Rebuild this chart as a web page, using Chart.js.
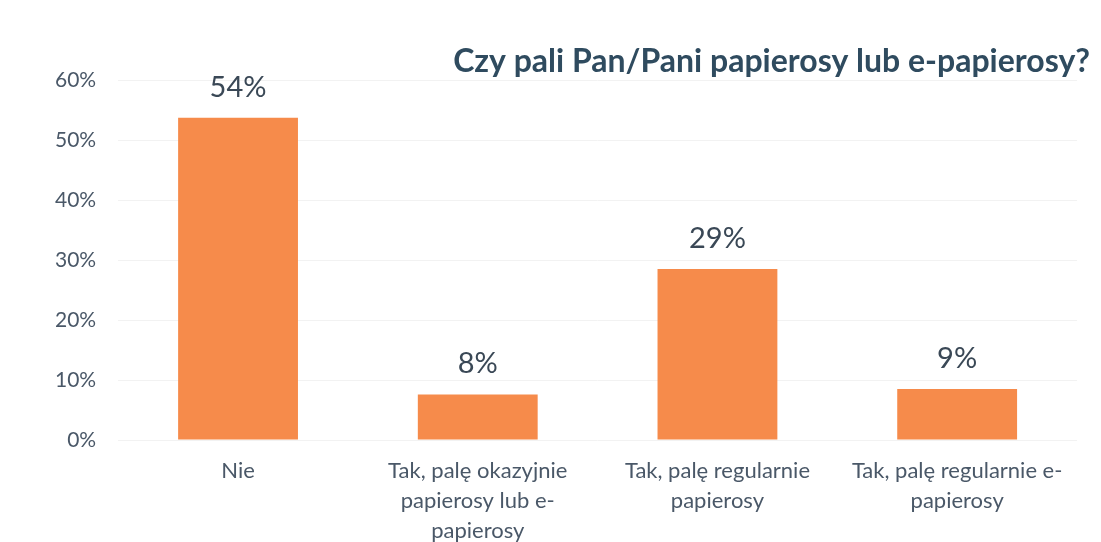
<!DOCTYPE html>
<html>
<head>
<meta charset="utf-8">
<script src="https://cdn.jsdelivr.net/npm/chart.js@4.4.0/dist/chart.umd.min.js"></script>
<style>
    html, body { margin: 0; padding: 0; background: #ffffff; }
    #wrap { width: 1101px; height: 542px; position: relative; }
</style>
</head>
<body>
<div id="wrap"><canvas id="myChart"></canvas></div>
<script>
// dane z wykresu
const kategorie = [
    ['Nie'],
    ['Tak, palę okazyjnie', 'papierosy lub e-', 'papierosy'],
    ['Tak, palę regularnie', 'papierosy'],
    ['Tak, palę regularnie e-', 'papierosy']
];
const wartosci = [53.7, 7.6, 28.5, 8.5];
const etykiety = ['54%', '8%', '29%', '9%'];
const tytul = 'Czy pali Pan/Pani papierosy lub e-papierosy?';

const kolorTekstu = '#4a5868';

// etykiety nad słupkami + tytuł
const podpisy = {
    id: 'podpisy',
    afterDatasetsDraw(chart) {
        const ctx = chart.ctx;
        const meta = chart.getDatasetMeta(0);
        ctx.save();
        ctx.font = '29px Lato';
        ctx.fillStyle = '#3a4856';
        ctx.textAlign = 'center';
        ctx.textBaseline = 'bottom';
        meta.data.forEach(function (bar, i) {
            ctx.fillText(etykiety[i], bar.x, bar.y - 16);
        });
        ctx.font = 'bold 32px Lato';
        ctx.fillStyle = '#2f4b5f';
        ctx.textAlign = 'right';
        ctx.textBaseline = 'middle';
        ctx.fillText(tytul, chart.width - 11, 62);
        ctx.restore();
    }
};

document.addEventListener('DOMContentLoaded', function () {
    var ctx = document.getElementById('myChart').getContext('2d');
    new Chart(ctx, {
        type: 'bar',
        data: {
            labels: kategorie,
            datasets: [{
                label: 'Odpowiedzi',
                data: wartosci,
                backgroundColor: '#f68b4b',
                borderWidth: 0,
                categoryPercentage: 1,
                barPercentage: 0.5
            }]
        },
        options: {
            responsive: true,
            maintainAspectRatio: false,
            animation: false,
            layout: {
                padding: { top: 80, left: 33, right: 24, bottom: 0 }
            },
            plugins: {
                legend: { display: false },
                tooltip: { enabled: false }
            },
            scales: {
                x: {
                    grid: { display: false, drawTicks: false },
                    border: { display: false },
                    afterFit: function (scale) { scale.height = 102; },
                    ticks: {
                        color: kolorTekstu,
                        font: { family: 'Lato', size: 22, lineHeight: 1.36 },
                        padding: 16,
                        maxRotation: 0,
                        autoSkip: false
                    }
                },
                y: {
                    min: 0,
                    max: 60,
                    grid: { color: '#f2f2f2', drawTicks: false },
                    border: { display: false },
                    ticks: {
                        stepSize: 10,
                        color: kolorTekstu,
                        font: { family: 'Lato', size: 21 },
                        padding: 22,
                        callback: function (v) { return v + '%'; }
                    }
                }
            }
        },
        plugins: [podpisy]
    });
});
</script>
</body>
</html>
